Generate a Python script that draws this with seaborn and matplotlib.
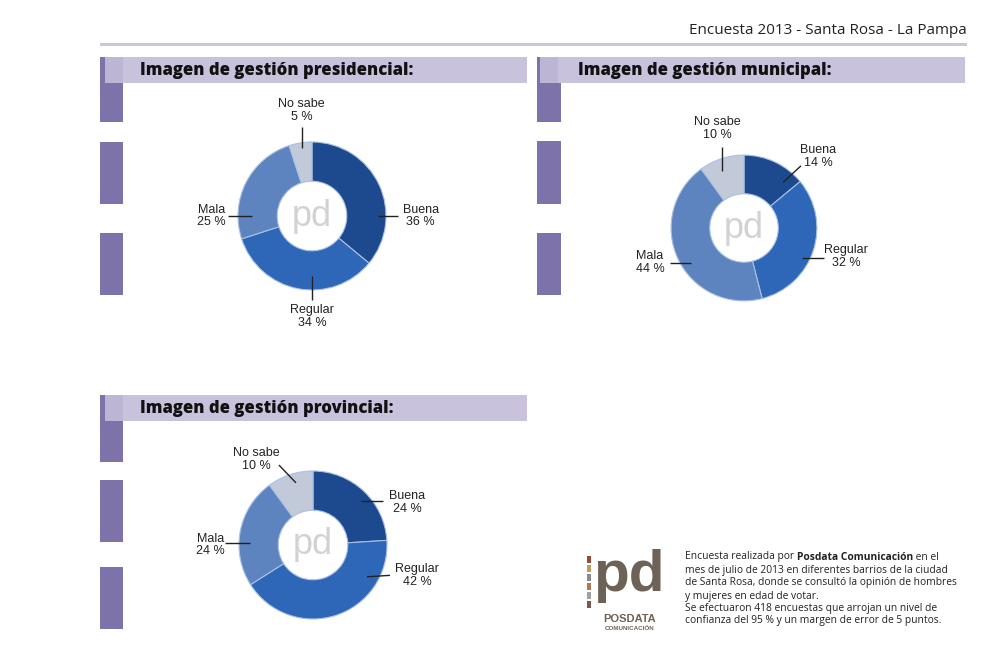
import matplotlib
matplotlib.use("Agg")
import matplotlib.pyplot as plt
from matplotlib.patches import Rectangle
import seaborn as sns

# ---------------- data ----------------
categories = ["Buena", "Regular", "Mala", "No sabe"]
presidencial = [36, 34, 25, 5]
municipal = [14, 32, 44, 10]
provincial = [24, 42, 24, 10]
chart_titles = ["Imagen de gestión presidencial:",
                "Imagen de gestión municipal:",
                "Imagen de gestión provincial:"]
header = "Encuesta 2013 - Santa Rosa - La Pampa"
note_lines = [
    [("Encuesta realizada por ", False), ("Posdata Comunicación", True), (" en el", False)],
    [("mes de julio de 2013 en diferentes barrios de la ciudad", False)],
    [("de Santa Rosa, donde se consultó la opinión de hombres", False)],
    [("y mujeres en edad de votar.", False)],
    [("Se efectuaron 418 encuestas que arrojan un nivel de", False)],
    [("confianza del 95 % y un margen de error de 5 puntos.", False)],
]

# ---------------- style ----------------
sns.set_theme(style="white")
plt.rcParams["font.family"] = ["Liberation Sans", "DejaVu Sans"]

W, H = 1000, 662
fig = plt.figure(figsize=(W / 100, H / 100), dpi=100)
fig.patch.set_facecolor("white")

def fx(x):
    return x / W

def fy(y):
    return 1 - y / H

def rect(x0, y0, x1, y1, color, z=1):
    fig.add_artist(Rectangle((fx(x0), fy(y1)), fx(x1) - fx(x0), fy(y0) - fy(y1),
                             transform=fig.transFigure, facecolor=color,
                             edgecolor="none", zorder=z))

colors = sns.blend_palette(["#1d4a8f", "#2f67b8", "#5d84bf"], 3) + ["#c2c9d8"]
strip_col = "#7d72aa"
bar_col = "#c9c2dd"
title_font = ["Open Sans", "DejaVu Sans"]

# header
fig.text(fx(967), fy(31), header, ha="right", va="center", fontsize=11,
         color="#222222", family=title_font)
rect(100, 42.5, 967, 45.5, "#cbc6d6")

# panels: (bar x0, bar x1, top y, strip x0, strip x1, strip segments, title x)
panels = [
    (105, 527, 57, 100, 123, [(57, 122), (142, 204), (233, 295)], 140),
    (540, 965, 57, 537, 561, [(57, 122), (141, 204), (233, 295)], 578),
    (105, 527, 395, 100, 123, [(395, 462), (480, 542), (567, 629)], 140),
]
for (bx0, bx1, ty, sx0, sx1, segs, tx), title in zip(panels, chart_titles):
    for (a, b) in segs:
        rect(sx0, a, sx1, b, strip_col, z=1)
    rect(bx0, ty, bx1, ty + 26, bar_col, z=2)
    rect(bx0, ty, bx0 + 18, ty + 26, "#bdb5d4", z=2)
    fig.text(fx(tx), fy(ty + 13.5), title, ha="left", va="center", fontsize=12,
             fontweight="heavy", color="#111111", family=title_font, zorder=3)

# donuts
R_PX = 74
SIZE = 320
donuts = [
    (presidencial, (312, 216), 1.0,
     {"Buena": ((1.47, 0.0), (0.89, 0.0), (1.16, 0.0)),
      "Regular": ((0.0, -1.36), (0.0, -0.81), (0.0, -1.14)),
      "Mala": ((-1.36, 0.0), (-1.14, 0.0), (-0.81, 0.0)),
      "No sabe": ((-0.14, 1.42), (-0.14, 1.2), (-0.14, 0.92))}),
    (municipal, (744, 228), 0.985,
     {"Buena": ((1.0, 0.97), (0.53, 0.62), (0.77, 0.84)),
      "Regular": ((1.38, -0.38), (0.79, -0.41), (1.08, -0.41)),
      "Mala": ((-1.27, -0.47), (-1.0, -0.47), (-0.71, -0.47)),
      "No sabe": ((-0.36, 1.35), (-0.30, 1.10), (-0.30, 0.77))}),
    (provincial, (313, 545), 1.0,
     {"Buena": ((1.27, 0.57), (0.65, 0.59), (0.95, 0.59)),
      "Regular": ((1.41, -0.41), (0.73, -0.43), (1.04, -0.41)),
      "Mala": ((-1.39, 0.0), (-1.19, 0.03), (-0.85, 0.03)),
      "No sabe": ((-0.76, 1.16), (-0.46, 1.08), (-0.23, 0.84))}),
]
L = (SIZE / 2) / R_PX
for vals, (cx, cy), rad, lab in donuts:
    ax = fig.add_axes([fx(cx - SIZE / 2), fy(cy + SIZE / 2), SIZE / W, SIZE / H])
    ax.set_xlim(-L, L)
    ax.set_ylim(-L, L)
    ax.set_aspect("equal")
    ax.axis("off")
    ax.patch.set_alpha(0)
    ax.pie(vals, colors=colors, startangle=90, counterclock=False, radius=rad,
           wedgeprops=dict(width=0.53 * rad, edgecolor="#aac0e4", linewidth=0.8))
    ax.set_xlim(-L, L)
    ax.set_ylim(-L, L)
    ax.text(0, 0, "pd", ha="center", va="center", fontsize=26, color="#d2d2d2",
            family=["Liberation Sans", "DejaVu Sans"])
    for c, v in zip(categories, vals):
        (tx, ty), p0, p1 = lab[c]
        ax.plot([p0[0], p1[0]], [p0[1], p1[1]], color="#222222", lw=1.0,
                solid_capstyle="butt", clip_on=False)
        ax.text(tx, ty, f"{c}\n{v} %", ha="center", va="center", fontsize=9,
                color="#222222", linespacing=1.1, clip_on=False)

# logo
lx0, ly0 = 587, 556
logo_col = "#6e6257"
stripe_cols = ["#9a4a3a", "#c49a5a", "#8a8a8a", "#b07a50", "#a0a0a0", "#7a5a4a"]
for i, c in enumerate(stripe_cols):
    rect(lx0, ly0 + i * 9, lx0 + 4, ly0 + 7 + i * 9, c, z=2)
fig.text(fx(629), fy(576), "pd", ha="center", va="center", fontsize=42,
         fontweight="bold", color=logo_col, family=["Liberation Sans", "DejaVu Sans"])
fig.text(fx(630), fy(619), "POSDATA", ha="center", va="center", fontsize=8,
         fontweight="bold", color=logo_col, family=["Liberation Sans", "DejaVu Sans"])
fig.text(fx(630), fy(628), "COMUNICACIÓN", ha="center", va="center", fontsize=4.5,
         fontweight="bold", color=logo_col, family=["Liberation Sans", "DejaVu Sans"])

# note text with mixed bold
fig.canvas.draw()
renderer = fig.canvas.get_renderer()
note_y = [557, 570, 583, 596, 608, 621]
for parts, y in zip(note_lines, note_y):
    x = 685
    for txt, bold in parts:
        t = fig.text(fx(x), fy(y), txt, ha="left", va="center", fontsize=7.4,
                     fontweight="bold" if bold else "normal", color="#222222",
                     family=title_font)
        x += t.get_window_extent(renderer).width

fig.savefig("out.png", dpi=100, facecolor="white")
